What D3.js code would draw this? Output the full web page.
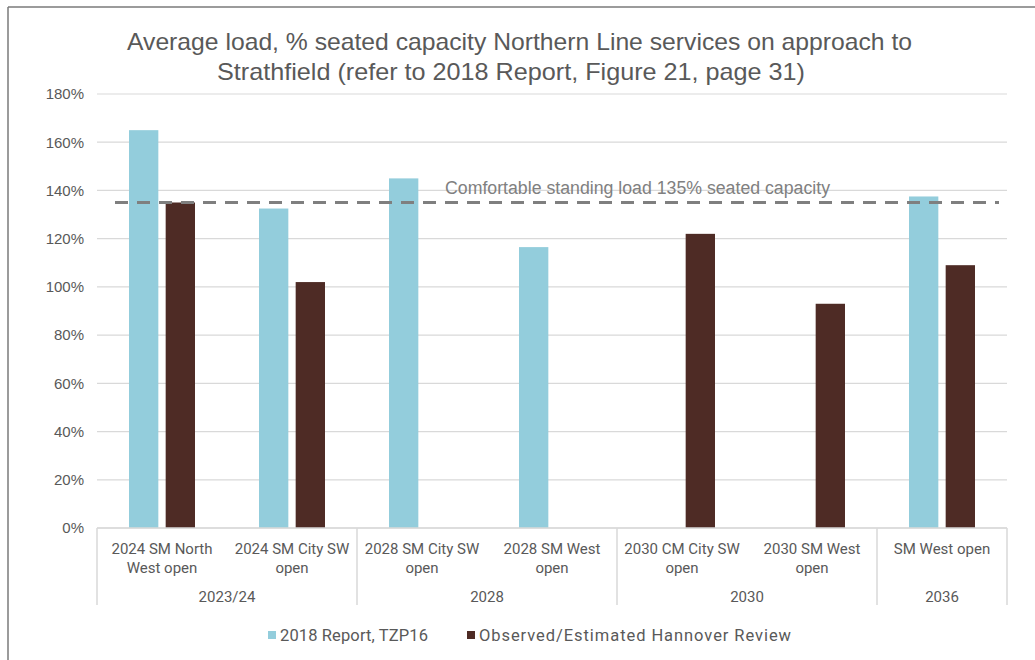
<!DOCTYPE html>
<html>
<head>
<meta charset="utf-8">
<script src="https://cdn.jsdelivr.net/npm/d3@7/dist/d3.min.js"></script>
<style>
  html, body { margin: 0; padding: 0; background: #ffffff; }
  svg { display: block; }
</style>
</head>
<body>
<div id="chart"></div>
<script>
// Scenario categories (label lines) and the year group each belongs to
const categoryLines = [
  ["2024 SM North", "West open"],
  ["2024 SM City SW", "open"],
  ["2028 SM City SW", "open"],
  ["2028 SM West", "open"],
  ["2030 CM City SW", "open"],
  ["2030 SM West", "open"],
  ["SM West open"]
];
const categoryGroup = ["2023/24", "2023/24", "2028", "2028", "2030", "2030", "2036"];
const groups = ["2023/24", "2028", "2030", "2036"];

// Average load as % of seated capacity
const seriesNames = ["2018 Report, TZP16", "Observed/Estimated Hannover Review"];
const report2018 = [165, 132.5, 145, 116.5, null, null, 137.5];
const observedHannover = [135, 102, null, null, 122, 93, 109];

// Comfortable standing load threshold
const thresholdValue = 135;
const thresholdLabel = "Comfortable standing load 135% seated capacity";

// Axis ticks
const yTicks = [0, 20, 40, 60, 80, 100, 120, 140, 160, 180];

const titleLines = [
  "Average load, % seated capacity Northern Line services on approach to",
  "Strathfield (refer to 2018 Report, Figure 21, page 31)"
];

const W = 1035, H = 660;
const colors = ["#93cddc", "#4e2b25"];
const textColor = "#595959";
const gridColor = "#d9d9d9";

const svg = d3.select("#chart").append("svg")
  .attr("width", W).attr("height", H);

// outer frame (left and top edges visible)
svg.append("line").attr("x1", 8).attr("x2", 8).attr("y1", 7).attr("y2", H)
  .attr("stroke", "#7a7a7a").attr("stroke-width", 1.5);
svg.append("line").attr("x1", 8).attr("x2", W).attr("y1", 7).attr("y2", 7)
  .attr("stroke", "#7a7a7a").attr("stroke-width", 1.5);

const plot = { left: 97, right: 1007, top: 94, bottom: 528 };

const idx = d3.range(categoryLines.length);
const x = d3.scaleBand().domain(idx).range([plot.left, plot.right]).padding(0);
const xInner = d3.scaleBand().domain([0, 1]).range([32, 98]).paddingInner(0.2);
const y = d3.scaleLinear().domain([0, 180]).range([plot.bottom, plot.top]);

// title
const title = svg.append("g").attr("fill", textColor)
  .attr("font-family", "'Liberation Sans Narrow', 'Arial Narrow', 'Liberation Sans', sans-serif")
  .attr("font-size", 24).attr("text-anchor", "middle");
const titleX = [519.5, 511];
const titleW = [785, 588];
titleLines.forEach((t, i) => {
  title.append("text").attr("x", titleX[i]).attr("y", 50 + i * 30)
    .attr("textLength", titleW[i]).attr("lengthAdjust", "spacingAndGlyphs")
    .text(t);
});

// gridlines
svg.append("g").selectAll("line").data(yTicks).join("line")
  .attr("x1", plot.left).attr("x2", plot.right)
  .attr("y1", d => y(d)).attr("y2", d => y(d))
  .attr("stroke", gridColor).attr("stroke-width", 1.2);

// y axis labels
const yAxis = svg.append("g")
  .attr("transform", `translate(${plot.left - 13},0)`)
  .call(d3.axisLeft(y).tickValues(yTicks).tickFormat(d => d + "%").tickSize(0).tickPadding(0));
yAxis.select(".domain").remove();
yAxis.selectAll("text")
  .attr("fill", textColor)
  .attr("font-family", "'Liberation Sans Narrow', 'Liberation Sans', sans-serif")
  .attr("font-size", 15);

// bars
const series = [report2018, observedHannover];
series.forEach((vals, s) => {
  svg.append("g").selectAll("rect")
    .data(vals.map((v, i) => ({ i, v })).filter(d => d.v != null))
    .join("rect")
    .attr("x", d => x(d.i) + xInner(s))
    .attr("width", xInner.bandwidth())
    .attr("y", d => y(d.v))
    .attr("height", d => y(0) - y(d.v))
    .attr("fill", colors[s]);
});

// threshold line and label
svg.append("line")
  .attr("x1", x(0) + 18).attr("x2", x(6) + x.bandwidth() - 8)
  .attr("y1", y(thresholdValue)).attr("y2", y(thresholdValue))
  .attr("stroke", "#7f7f7f").attr("stroke-width", 3.2)
  .attr("stroke-dasharray", "13,9");
svg.append("text")
  .attr("x", 445).attr("y", y(thresholdValue) - 9)
  .attr("fill", "#808080")
  .attr("font-family", "'Liberation Sans Narrow', 'Liberation Sans', sans-serif")
  .attr("font-size", 18)
  .attr("textLength", 385).attr("lengthAdjust", "spacingAndGlyphs")
  .text(thresholdLabel);

// category axis: baseline and group separators
const axisG = svg.append("g").attr("stroke", gridColor).attr("stroke-width", 1.5);
axisG.append("line").attr("x1", plot.left).attr("x2", plot.right)
  .attr("y1", plot.bottom).attr("y2", plot.bottom);
const groupSpans = groups.map(g => {
  const members = idx.filter(i => categoryGroup[i] === g);
  return { g, x0: x(members[0]), x1: x(members[members.length - 1]) + x.bandwidth() };
});
const seps = [plot.left].concat(groupSpans.map(d => d.x1));
axisG.selectAll("line.sep").data(seps).join("line").attr("class", "sep")
  .attr("x1", d => d).attr("x2", d => d)
  .attr("y1", plot.bottom).attr("y2", 605);

// category labels
const catFont = "Roboto, 'Liberation Sans', sans-serif";
const catG = svg.append("g").attr("fill", textColor).attr("font-family", catFont)
  .attr("font-size", 15).attr("text-anchor", "middle");
idx.forEach(i => {
  const t = catG.append("text").attr("x", x(i) + x.bandwidth() / 2).attr("y", 554);
  categoryLines[i].forEach((ln, k) => {
    t.append("tspan").attr("x", x(i) + x.bandwidth() / 2).attr("y", 554 + k * 19).text(ln);
  });
});
catG.selectAll("text.grp").data(groupSpans).join("text").attr("class", "grp")
  .attr("x", d => (d.x0 + d.x1) / 2).attr("y", 602).text(d => d.g);

// legend
const legend = svg.append("g").attr("font-family", catFont).attr("font-size", 16.5)
  .attr("fill", textColor);
const legendX = [268, 467];
const legendW = [148, 312];
seriesNames.forEach((n, s) => {
  legend.append("rect").attr("x", legendX[s]).attr("y", 631).attr("width", 8).attr("height", 8)
    .attr("fill", colors[s]);
  legend.append("text").attr("x", legendX[s] + 12).attr("y", 641)
    .attr("textLength", legendW[s]).attr("lengthAdjust", "spacing").text(n);
});
</script>
</body>
</html>
